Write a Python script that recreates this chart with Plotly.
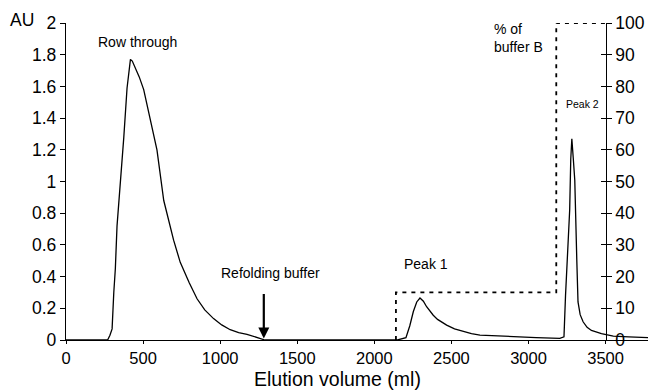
import plotly.graph_objects as go

# Absorbance trace (elution volume in ml, AU)
volume = [0, 260, 270, 285, 299, 310, 320, 331, 353, 375, 396, 410, 418, 430, 450, 475,
          504, 547, 590, 634, 665, 698, 741, 763, 800, 850, 900, 957, 1010, 1065, 1120,
          1174, 1230, 1260, 1290, 1400, 2150, 2205, 2230, 2253, 2275, 2296, 2318, 2339,
          2360, 2382, 2410, 2447, 2469, 2520, 2577, 2630, 2685, 2800, 2900, 3050, 3203,
          3230, 3240, 3250, 3267, 3274, 3281, 3290, 3300, 3313, 3321, 3335, 3354, 3380,
          3408, 3473, 3505, 3550, 3650, 3775]
absorbance = [0, 0, 0, 0.03, 0.07, 0.3, 0.45, 0.72, 0.99, 1.28, 1.59, 1.73, 1.77, 1.76, 1.72, 1.66,
              1.58, 1.39, 1.20, 0.88, 0.75, 0.63, 0.49, 0.44, 0.36, 0.26, 0.19, 0.135, 0.095, 0.065, 0.047,
              0.036, 0.02, 0.008, 0.0, 0.0, 0.0, 0.015, 0.09, 0.18, 0.24, 0.265, 0.245, 0.21,
              0.18, 0.156, 0.13, 0.105, 0.094, 0.07, 0.052, 0.04, 0.031, 0.025, 0.02, 0.015, 0.01,
              0.02, 0.28, 0.47, 0.82, 1.14, 1.27, 1.15, 1.01, 0.51, 0.24, 0.16, 0.115, 0.08,
              0.06, 0.04, 0.035, 0.025, 0.02, 0.015]

# Buffer B gradient (% of buffer B)
buffer_volume = [2140, 2140, 3180, 3180, 3500]
buffer_pct = [0, 15, 15, 100, 100]

x_ticks = [0, 500, 1000, 1500, 2000, 2500, 3000, 3500]
y_ticks = [0, 0.2, 0.4, 0.6, 0.8, 1, 1.2, 1.4, 1.6, 1.8, 2]
y_tick_text = ["0", "0.2", "0.4", "0.6", "0.8", "1", "1.2", "1.4", "1.6", "1.8", "2"]
y2_ticks = [0, 10, 20, 30, 40, 50, 60, 70, 80, 90, 100]

X_MAX = 3775
FONT = "Liberation Sans, Arial, sans-serif"

fig = go.Figure()
fig.add_trace(go.Scatter(x=volume, y=absorbance, mode="lines",
                         line=dict(color="black", width=1.3), yaxis="y", showlegend=False,
                         hoverinfo="skip"))
fig.add_trace(go.Scatter(x=buffer_volume, y=buffer_pct, mode="lines",
                         line=dict(color="black", width=1.8, dash="4px,5px"), yaxis="y2",
                         showlegend=False, hoverinfo="skip"))
# helper trace so the inner half of the right-axis ticks is drawn
fig.add_trace(go.Scatter(x=[None], y=[None], yaxis="y3", showlegend=False, hoverinfo="skip"))

fig.update_layout(
    width=650, height=391,
    margin=dict(l=66, r=2, t=23, b=51),
    paper_bgcolor="white", plot_bgcolor="white",
    font=dict(family=FONT, color="black"),
    xaxis=dict(range=[0, X_MAX], tickvals=x_ticks, showgrid=False, zeroline=False,
               showline=True, linecolor="black", linewidth=1.3, ticks="outside",
               ticklen=3, tickcolor="black", tickfont=dict(size=16.5)),
    yaxis=dict(range=[0, 2], tickvals=y_ticks, ticktext=y_tick_text, showgrid=False,
               zeroline=False, showline=True, linecolor="black", linewidth=1.3,
               ticks="outside", ticklen=5, tickcolor="black", tickfont=dict(size=17.5)),
    yaxis2=dict(range=[0, 100], tickvals=y2_ticks, overlaying="y", anchor="free",
                position=3500 / X_MAX, side="right", showgrid=False, zeroline=False,
                showline=True, linecolor="black", linewidth=1.3, ticks="outside",
                ticklen=5, tickcolor="black", tickfont=dict(size=17.5)),
    yaxis3=dict(range=[0, 100], tickvals=y2_ticks, overlaying="y", anchor="free",
                position=3500 / X_MAX, side="right", showgrid=False, zeroline=False,
                showline=False, ticks="inside", ticklen=5, tickcolor="black",
                showticklabels=False),
)

ann = [
    dict(text="AU", x=-0.075, y=1.01, xref="paper", yref="paper", showarrow=False,
         xanchor="center", yanchor="middle", font=dict(size=17.5)),
    dict(text="Row through", x=463, y=1.88, xref="x", yref="y", showarrow=False,
         font=dict(size=14)),
    dict(text="Refolding buffer", x=1325, y=0.42, xref="x", yref="y", showarrow=False,
         font=dict(size=14)),
    dict(text="Peak 1", x=2332, y=0.48, xref="x", yref="y", showarrow=False,
         font=dict(size=14)),
    dict(text="% of<br>buffer B", x=2765, y=1.906, xref="x", yref="y", showarrow=False,
         xanchor="left", align="left", font=dict(size=14)),
    dict(text="Peak 2", x=3348, y=1.4875, xref="x", yref="y", showarrow=False,
         font=dict(size=10.5)),
    dict(text="Elution volume (ml)", x=0.466, y=0.0, yshift=-51, xref="paper", yref="paper",
         showarrow=False, xanchor="center", yanchor="bottom", borderpad=0,
         font=dict(size=19.5)),
    dict(text="", x=1283, y=0.01, xref="x", yref="y", showarrow=True, ax=0, ay=-46,
         arrowhead=2, arrowsize=1, arrowwidth=2.2, arrowcolor="black"),
]
fig.update_layout(annotations=ann)

fig.write_html("out.html")
